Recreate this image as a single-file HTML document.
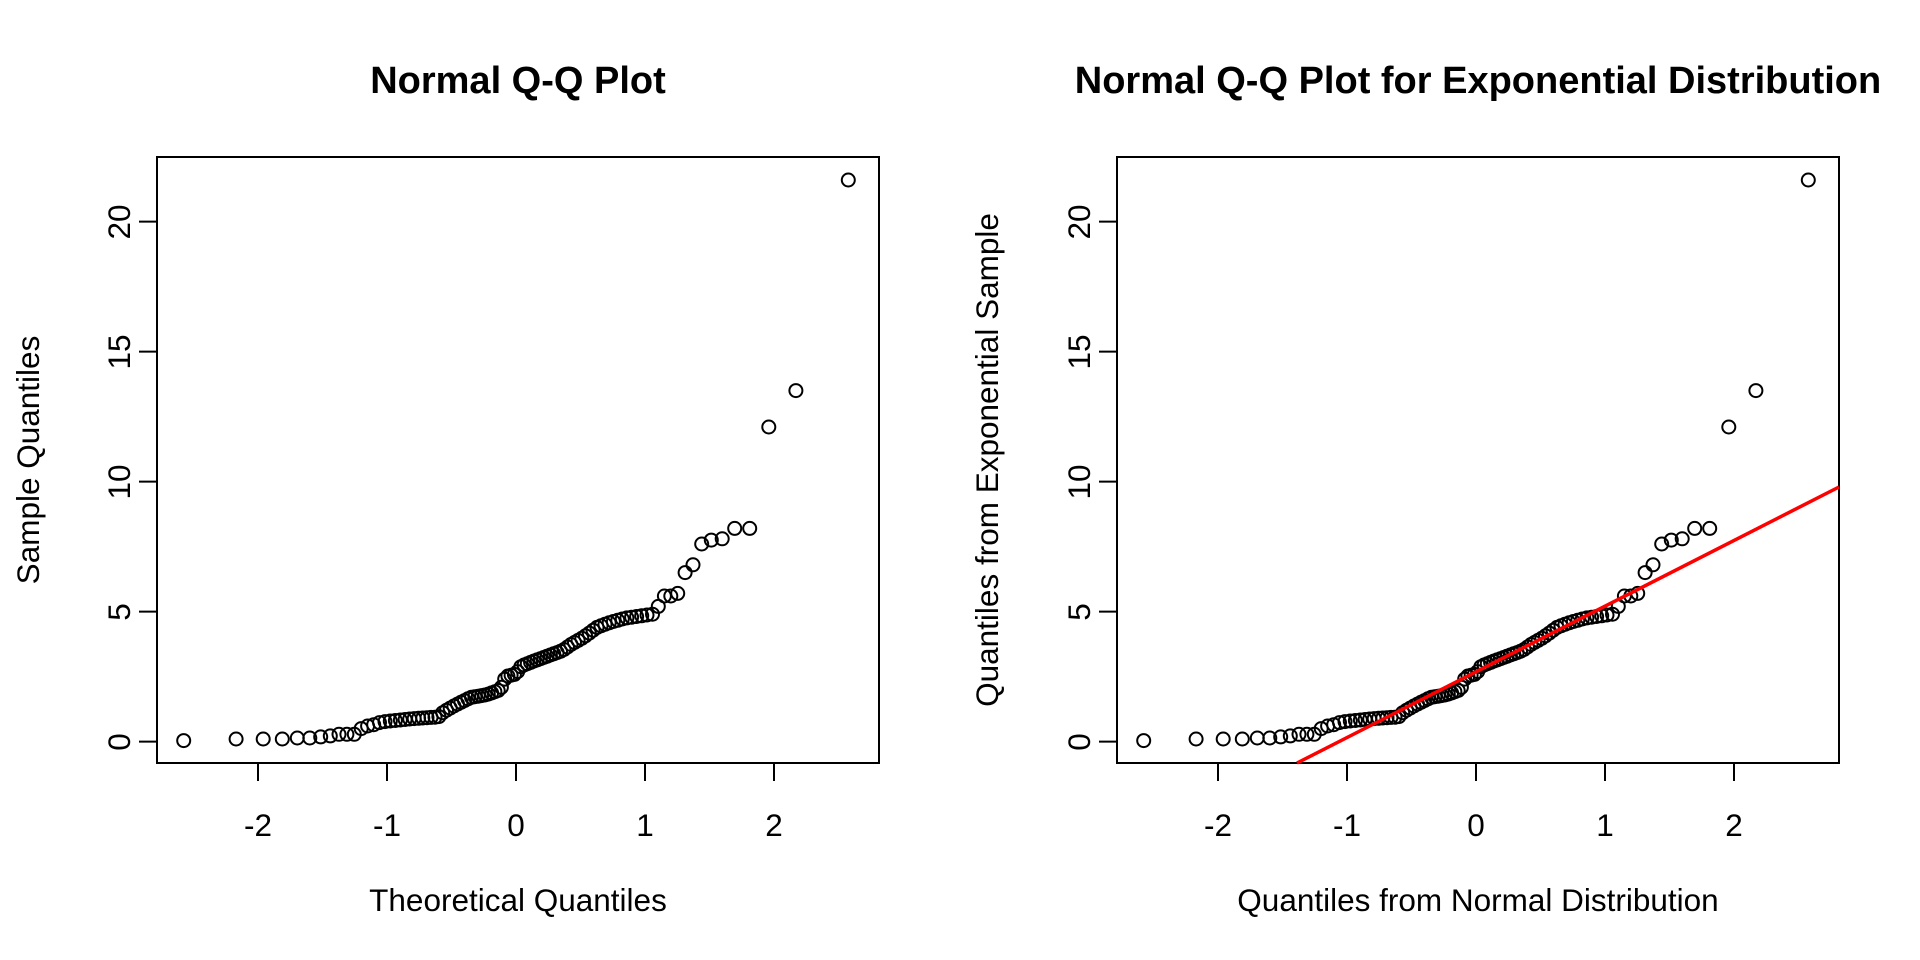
<!DOCTYPE html>
<html><head><meta charset="utf-8"><style>
html,body{margin:0;padding:0;background:#fff;}
svg{display:block;font-family:"Liberation Sans",Arial,sans-serif;}
</style></head><body>
<svg id="s" width="1920" height="960" xmlns="http://www.w3.org/2000/svg">
<rect width="1920" height="960" fill="#fff"/>
<g fill="#000">
<text x="518" y="93" font-size="38" font-weight="bold" text-anchor="middle">Normal Q-Q Plot</text>
<text x="1478" y="93" font-size="38" font-weight="bold" text-anchor="middle">Normal Q-Q Plot for Exponential Distribution</text>
<text x="518" y="911" font-size="31.5" text-anchor="middle">Theoretical Quantiles</text>
<text x="1478" y="911" font-size="31.5" text-anchor="middle">Quantiles from Normal Distribution</text>
<text transform="translate(39,460) rotate(-90)" font-size="31.5" text-anchor="middle">Sample Quantiles</text>
<text transform="translate(998,460) rotate(-90)" font-size="31.5" text-anchor="middle">Quantiles from Exponential Sample</text>
</g>
<g id="axes"></g>
<g id="pts" fill="none" stroke="#000" stroke-width="2"></g>
<line x1="1297" y1="763" x2="1839" y2="487" stroke="#ff0000" stroke-width="3.5"/>
<g font-size="31.5" fill="#000" id="ticks">
<text x="258" y="836" text-anchor="middle">-2</text>
<text x="387" y="836" text-anchor="middle">-1</text>
<text x="516" y="836" text-anchor="middle">0</text>
<text x="645" y="836" text-anchor="middle">1</text>
<text x="774" y="836" text-anchor="middle">2</text>
<text x="1218" y="836" text-anchor="middle">-2</text>
<text x="1347" y="836" text-anchor="middle">-1</text>
<text x="1476" y="836" text-anchor="middle">0</text>
<text x="1605" y="836" text-anchor="middle">1</text>
<text x="1734" y="836" text-anchor="middle">2</text>
<text transform="translate(130,742) rotate(-90)" text-anchor="middle">0</text>
<text transform="translate(130,612) rotate(-90)" text-anchor="middle">5</text>
<text transform="translate(130,482) rotate(-90)" text-anchor="middle">10</text>
<text transform="translate(130,352) rotate(-90)" text-anchor="middle">15</text>
<text transform="translate(130,222) rotate(-90)" text-anchor="middle">20</text>
<text transform="translate(1090,742) rotate(-90)" text-anchor="middle">0</text>
<text transform="translate(1090,612) rotate(-90)" text-anchor="middle">5</text>
<text transform="translate(1090,482) rotate(-90)" text-anchor="middle">10</text>
<text transform="translate(1090,352) rotate(-90)" text-anchor="middle">15</text>
<text transform="translate(1090,222) rotate(-90)" text-anchor="middle">20</text>
</g>
</svg>
<script>
(function(){
var NS="http://www.w3.org/2000/svg";
function el(p,t,a){var e=document.createElementNS(NS,t);for(var k in a)e.setAttribute(k,a[k]);p.appendChild(e);return e;}
function qnorm(p){var a=[-39.69683028665376,220.9460984245205,-275.9285104469687,138.357751867269,-30.66479806614716,2.506628277459239],
b=[-54.47609879822406,161.5858368580409,-155.6989798598866,66.80131188771972,-13.28068155288572],
c=[-0.007784894002430293,-0.3223964580411365,-2.400758277161838,-2.549732539343734,4.374664141464968,2.938163982698783],
d=[0.007784695709041462,0.3224671290700398,2.445134137142996,3.754408661907416];
var q,r;if(p<0.02425){q=Math.sqrt(-2*Math.log(p));return (((((c[0]*q+c[1])*q+c[2])*q+c[3])*q+c[4])*q+c[5])/((((d[0]*q+d[1])*q+d[2])*q+d[3])*q+1);}
if(p>1-0.02425){q=Math.sqrt(-2*Math.log(1-p));return -(((((c[0]*q+c[1])*q+c[2])*q+c[3])*q+c[4])*q+c[5])/((((d[0]*q+d[1])*q+d[2])*q+d[3])*q+1);}
q=p-0.5;r=q*q;return (((((a[0]*r+a[1])*r+a[2])*r+a[3])*r+a[4])*r+a[5])*q/(((((b[0]*r+b[1])*r+b[2])*r+b[3])*r+b[4])*r+1);}
var anc=[[-1.12,0.68],[-1.0,0.78],[-0.8,0.88],[-0.6,0.95],[-0.56,1.15],[-0.47,1.4],[-0.35,1.7],[-0.23,1.8],[-0.12,2.0],[-0.08,2.5],[0,2.6],[0.04,2.9],[0.14,3.1],[0.25,3.3],[0.36,3.5],[0.43,3.75],[0.52,4.0],[0.63,4.4],[0.74,4.6],[0.85,4.75],[1.06,4.9]];
function interp(x){for(var i=0;i<anc.length-1;i++){if(x<=anc[i+1][0]){var t=(x-anc[i][0])/(anc[i+1][0]-anc[i][0]);return anc[i][1]+t*(anc[i+1][1]-anc[i][1]);}}return 4.9;}
var low=[0.04,0.1,0.1,0.1,0.14,0.14,0.18,0.22,0.28,0.28,0.28,0.5,0.6,0.65];
var high={86:4.9,87:5.2,88:5.6,89:5.6,90:5.7,91:6.5,92:6.8,93:7.6,94:7.75,95:7.8,96:8.2,97:8.2,98:12.1,99:13.5,100:21.6};
var pts=document.getElementById('pts'),axes=document.getElementById('axes');
var offs=[157,1117];
offs.forEach(function(L){
 el(axes,'rect',{x:L,y:157,width:722,height:606,fill:'none',stroke:'#000','stroke-width':2});
 var x0=L+359;
 for(var k=-2;k<=2;k++){var X=x0+k*129;el(axes,'line',{x1:X,y1:763,x2:X,y2:781,stroke:'#000','stroke-width':2});}
 for(var j=0;j<=20;j+=5){var Y=741.6-j*26;el(axes,'line',{x1:L-18,y1:Y,x2:L,y2:Y,stroke:'#000','stroke-width':2});}
 for(var i=1;i<=100;i++){
  var x=qnorm((i-0.5)/100),y;
  if(i<=14)y=low[i-1];else if(high[i]!==undefined)y=high[i];else y=interp(x);
  el(pts,'circle',{cx:(x0+x*129).toFixed(1),cy:(741.6-y*26).toFixed(1),r:6.5});
 }
});
})();
</script>
</body></html>
